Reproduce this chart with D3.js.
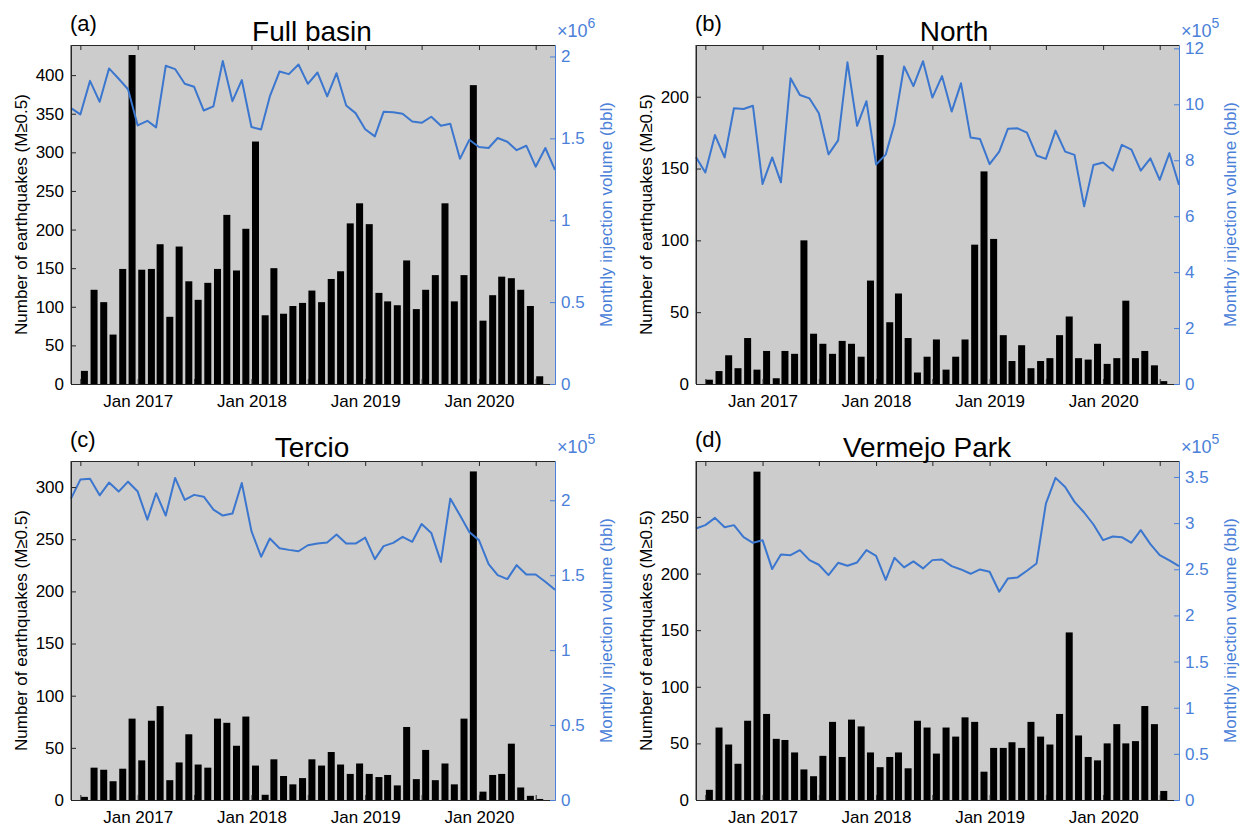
<!DOCTYPE html>
<html><head><meta charset="utf-8">
<script src="https://cdn.jsdelivr.net/npm/d3@7"></script>
<style>body{margin:0;background:#fff}svg text{font-family:"Liberation Sans",Arial,Helvetica,sans-serif}</style>
</head><body>
<svg id="chart" width="1240" height="828"></svg>
<script>
// ---------- DATA ----------
// Monthly earthquake counts, Jul 2016 .. Jul 2020 (49 months)
const countsFull = [17,122,106,64,149,426,148,149,181,87,178,133,109,131,149,219,147,201,314,89,150,91,101,105,121,106,136,146,208,234,207,118,107,102,160,97,122,141,234,107,141,387,82,115,139,137,122,101,10];
const countsNorth = [3,9,20,11,32,10,23,4,23,21,100,35,28,21,30,28,19,72,229,43,63,32,8,19,31,10,19,31,97,148,101,34,16,27,11,16,18,34,47,18,17,28,14,18,58,18,23,13,2];
const countsTercio = [3,31,29,18,30,78,38,76,90,19,36,63,34,31,78,74,52,80,33,5,39,23,15,21,39,33,46,34,25,35,25,22,24,14,70,20,48,19,35,15,78,315,8,24,25,54,12,4,1];
const countsVermejo = [9,64,49,32,70,290,76,54,53,42,27,21,39,69,38,71,65,42,29,38,42,28,70,64,41,64,56,73,69,25,46,46,51,46,69,56,49,76,148,57,38,35,50,67,50,52,83,67,8];

// Monthly injection volume, Jun 2016 .. Sep 2020 (52 months), in units of 10^exp bbl
const volFull = [1.685,1.646,1.851,1.723,1.927,1.864,1.800,
  1.579,1.607,1.567,1.943,1.923,1.833,1.815,1.670,1.695,1.972,1.727,1.856,
  1.569,1.554,1.756,1.908,1.892,1.951,1.833,1.902,1.756,1.898,1.701,1.654,
  1.556,1.512,1.662,1.660,1.650,1.603,1.595,1.632,1.577,1.589,1.375,1.491,
  1.447,1.441,1.502,1.479,1.428,1.455,1.327,1.441,1.308];
const volNorth = [8.11,7.56,8.90,8.10,9.86,9.83,9.95,
  7.15,8.10,7.21,10.93,10.33,10.21,9.68,8.21,8.71,11.50,9.23,10.11,
  7.85,8.20,9.30,11.35,10.65,11.54,10.24,11.01,9.74,10.75,8.81,8.76,
  7.86,8.31,9.13,9.14,8.99,8.17,8.05,9.06,8.31,8.19,6.35,7.83,
  7.92,7.63,8.55,8.38,7.63,8.07,7.30,8.25,7.12];
const volTercio = [2.011,2.138,2.144,2.033,2.118,2.058,2.124,
  2.058,1.871,2.047,1.898,2.149,2.002,2.036,2.024,1.938,1.898,1.911,2.115,
  1.794,1.623,1.745,1.680,1.669,1.660,1.700,1.711,1.718,1.771,1.711,1.711,
  1.751,1.607,1.694,1.716,1.756,1.723,1.842,1.782,1.589,2.011,1.900,1.789,
  1.734,1.574,1.501,1.474,1.567,1.505,1.505,1.456,1.403];
const volVermejo = [2.942,2.978,3.057,2.956,2.978,2.848,2.787,
  2.815,2.502,2.660,2.653,2.707,2.599,2.549,2.437,2.570,2.538,2.574,2.707,
  2.646,2.386,2.624,2.520,2.585,2.509,2.599,2.606,2.534,2.498,2.451,2.498,
  2.473,2.257,2.401,2.412,2.484,2.563,3.212,3.490,3.392,3.230,3.115,2.985,
  2.815,2.855,2.848,2.787,2.924,2.772,2.653,2.596,2.534];

const titles = ["Full basin","North","Tercio","Vermejo Park"];
const letters = ["(a)","(b)","(c)","(d)"];
const leftTicks = [d3.range(0,401,50), d3.range(0,201,50), d3.range(0,301,50), d3.range(0,251,50)];
const rightTicks = [[0,0.5,1,1.5,2], [0,2,4,6,8,10,12], [0,0.5,1,1.5,2], [0,0.5,1,1.5,2,2.5,3,3.5]];
const leftMax = [439, 236, 325, 299.4];
const rightMax = [2.07, 12.12, 2.262, 3.673];
const exps = [6,5,5,5];
const leftLabel = "Number of earthquakes (M\u22650.5)";
const rightLabel = "Monthly injection volume (bbl)";

const barMonths = d3.timeMonth.range(new Date(2016,6,1), new Date(2020,7,1));   // 49
const lineMonths = d3.timeMonth.range(new Date(2016,5,1), new Date(2020,9,1));  // 52
const xTickDates = d3.timeMonth.every(6).range(new Date(2016,6,1), new Date(2020,7,2));

const countsAll = [countsFull, countsNorth, countsTercio, countsVermejo];
const volAll = [volFull, volNorth, volTercio, volVermejo];

// ---------- LAYOUT ----------
const boxes = [
  {x0:71, x1:555, y0:45, y1:384, tx:312},
  {x0:696, x1:1179, y0:45, y1:384, tx:954},
  {x0:71, x1:555, y0:461, y1:800, tx:312},
  {x0:696, x1:1179, y0:461, y1:800, tx:927}
];
const lineColor = "#3b76cf";
const rAxisColor = "#4a80d8";
const axisColor = "#262626";
const svg = d3.select("#chart");

boxes.forEach((b, i) => {
  const g = svg.append("g");
  const x = d3.scaleTime().domain([new Date(2016,5,1), new Date(2020,8,1)]).range([b.x0, b.x1]);
  const yL = d3.scaleLinear().domain([0, leftMax[i]]).range([b.y1, b.y0]);
  const yR = d3.scaleLinear().domain([0, rightMax[i]]).range([b.y1, b.y0]);

  g.append("rect").attr("x", b.x0).attr("y", b.y0).attr("width", b.x1-b.x0).attr("height", b.y1-b.y0).attr("fill", "#cccccc");

  // bars
  const bw = 7;
  g.append("g").selectAll("rect").data(countsAll[i]).join("rect")
    .attr("x", (d,j) => x(d3.timeDay.offset(barMonths[j], 13)) - bw/2)
    .attr("width", bw)
    .attr("y", d => yL(d))
    .attr("height", d => yL(0) - yL(d))
    .attr("fill", "#000");

  // line
  const line = d3.line().x((d,j) => x(lineMonths[j])).y(d => yR(d));
  g.append("path").datum(volAll[i]).attr("d", line)
    .attr("fill","none").attr("stroke", lineColor).attr("stroke-width", 2).attr("stroke-linejoin","round");

  // axes
  const fmtX = d => d.getMonth() === 0 ? "Jan " + d.getFullYear() : "";
  const xb = g.append("g").attr("transform", `translate(0,${b.y1})`)
    .call(d3.axisBottom(x).tickValues(xTickDates).tickFormat(fmtX).tickSizeInner(-5).tickSizeOuter(0).tickPadding(11));
  const xt = g.append("g").attr("transform", `translate(0,${b.y0})`)
    .call(d3.axisTop(x).tickValues(xTickDates).tickFormat("").tickSizeInner(-5).tickSizeOuter(0));
  const yl = g.append("g").attr("transform", `translate(${b.x0},0)`)
    .call(d3.axisLeft(yL).tickValues(leftTicks[i]).tickFormat(d3.format("d")).tickSizeInner(-5).tickSizeOuter(0).tickPadding(7));
  const yr = g.append("g").attr("transform", `translate(${b.x1},0)`)
    .call(d3.axisRight(yR).tickValues(rightTicks[i]).tickFormat(d3.format("~g")).tickSizeInner(-5).tickSizeOuter(0).tickPadding(6));

  [xb, xt, yl].forEach(a => {
    a.selectAll(".domain").attr("stroke", axisColor);
    a.selectAll(".tick line").attr("stroke", axisColor);
    a.selectAll("text").attr("fill", "#000").style("font-size", "17px");
  });
  yr.selectAll(".domain").attr("stroke", rAxisColor);
  yr.selectAll(".tick line").attr("stroke", rAxisColor);
  yr.selectAll("text").attr("fill", rAxisColor).style("font-size", "17px");
  // left border
  g.append("line").attr("x1", b.x0).attr("x2", b.x0).attr("y1", b.y0).attr("y2", b.y1).attr("stroke", axisColor);

  // exponent
  const ex = g.append("text").attr("x", b.x1 + 2).attr("y", b.y0 - 8).attr("fill", rAxisColor).style("font-size", "18px");
  ex.append("tspan").text("\u00d710");
  ex.append("tspan").attr("dy", -9).style("font-size", "14px").text(exps[i]);

  // titles
  g.append("text").attr("x", b.tx).attr("y", b.y0 - 4).attr("text-anchor","middle").style("font-size","28px").attr("fill","#000").text(titles[i]);
  g.append("text").attr("x", b.x0 - 1).attr("y", b.y0 - 14).style("font-size","22px").attr("fill","#000").text(letters[i]);

  // axis labels
  const yc = (b.y0 + b.y1) / 2;
  g.append("text").attr("transform", `translate(${b.x0 - 44},${yc}) rotate(-90)`).attr("text-anchor","middle")
    .style("font-size","17px").attr("fill","#000").text(leftLabel);
  g.append("text").attr("transform", `translate(${b.x1 + 57},${yc}) rotate(-90)`).attr("text-anchor","middle")
    .style("font-size","17px").attr("fill", rAxisColor).text(rightLabel);
});
</script>
</body></html>
